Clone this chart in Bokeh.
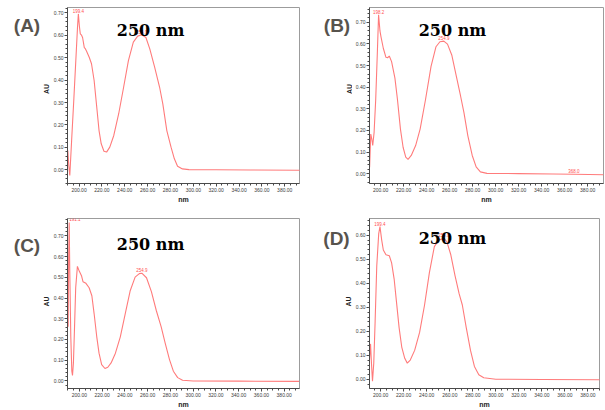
from math import pi
from bokeh.plotting import figure
from bokeh.layouts import column, row
from bokeh.models import Range1d, SingleIntervalTicker, NumeralTickFormatter, Label
from bokeh.embed import file_html
from bokeh.resources import INLINE
from bokeh.core.properties import value

# ---------------- data ----------------
wl_A = [190.2, 191.0, 191.9, 193.5, 195.5, 197.5, 198.7, 199.4, 200.3, 201.1, 202.2, 203.1,
        204.6, 205.5, 206.5, 208.9, 210.9, 213.2, 215.5, 217.5, 219.4, 221.8, 224.1, 226.9,
        230.4, 234.7, 239.0, 243.2, 247.5, 251.3, 254.9, 258.5, 261.9, 266.2, 270.5, 273.3,
        276.8, 280.5, 283.4, 286.2, 290.5, 296.2, 320.0, 350.0, 394.0]
au_A = [0.086, 0.020, -0.025, 0.130, 0.320, 0.520, 0.640, 0.695, 0.640, 0.606, 0.600, 0.590,
        0.545, 0.540, 0.530, 0.502, 0.473, 0.398, 0.279, 0.175, 0.116, 0.083, 0.079, 0.101,
        0.153, 0.250, 0.368, 0.487, 0.569, 0.596, 0.602, 0.590, 0.539, 0.457, 0.368, 0.294,
        0.175, 0.101, 0.049, 0.016, 0.004, 0.001, 0.000, -0.001, -0.002]

wl_B = [190.4, 191.4, 192.3, 193.1, 194.3, 195.7, 197.2, 198.2, 199.4, 200.3, 202.3, 204.6,
        206.0, 207.5, 209.5, 212.4, 214.6, 217.2, 219.5, 221.8, 223.8, 226.6, 230.4, 234.3,
        239.0, 243.8, 248.1, 251.5, 254.9, 258.1, 261.8, 265.8, 269.5, 272.4, 275.8, 279.6,
        283.0, 286.7, 292.4, 320.0, 350.0, 368.0, 394.0]
au_B = [0.030, 0.183, 0.160, 0.130, 0.191, 0.343, 0.572, 0.735, 0.660, 0.633, 0.580, 0.538,
        0.536, 0.544, 0.518, 0.442, 0.343, 0.206, 0.122, 0.076, 0.066, 0.084, 0.130, 0.206,
        0.343, 0.496, 0.587, 0.610, 0.613, 0.599, 0.549, 0.450, 0.358, 0.282, 0.175, 0.084,
        0.031, 0.008, 0.001, 0.000, -0.002, -0.003, -0.005]

wl_C = [190.2, 190.6, 191.1, 191.6, 192.5, 193.4, 194.0, 194.8, 195.7, 196.8, 198.3, 200.0,
        202.0, 203.2, 205.8, 208.6, 211.0, 213.0, 215.3, 217.3, 219.6, 222.5, 225.0, 227.9,
        231.7, 236.0, 240.3, 244.6, 249.0, 252.7, 254.9, 259.0, 263.3, 267.6, 271.9, 275.4,
        279.2, 282.6, 286.4, 290.7, 300.0, 340.0, 393.0]
au_C = [0.261, 0.600, 0.765, 0.529, 0.213, 0.047, 0.027, 0.087, 0.245, 0.450, 0.553, 0.529,
        0.506, 0.479, 0.471, 0.450, 0.411, 0.324, 0.213, 0.134, 0.079, 0.060, 0.066, 0.087,
        0.134, 0.213, 0.324, 0.434, 0.501, 0.518, 0.520, 0.498, 0.431, 0.340, 0.261, 0.182,
        0.103, 0.047, 0.016, 0.003, 0.000, -0.001, -0.002]

wl_D = [190.3, 191.2, 192.0, 192.9, 194.0, 195.2, 196.6, 198.3, 199.4, 200.9, 202.3, 204.6,
        207.5, 209.5, 211.7, 213.7, 216.0, 218.3, 220.9, 223.1, 225.7, 229.5, 233.8, 238.1,
        242.3, 246.6, 250.3, 252.0, 254.9, 257.5, 260.9, 264.6, 268.1, 270.9, 274.3, 278.0,
        281.4, 285.2, 289.5, 300.0, 340.0, 391.0]
au_D = [0.081, 0.148, 0.068, -0.007, 0.068, 0.243, 0.472, 0.607, 0.636, 0.580, 0.539, 0.519,
        0.515, 0.485, 0.418, 0.324, 0.216, 0.135, 0.088, 0.068, 0.081, 0.121, 0.196, 0.310,
        0.445, 0.553, 0.580, 0.583, 0.588, 0.573, 0.519, 0.431, 0.357, 0.310, 0.216, 0.121,
        0.054, 0.020, 0.007, 0.001, 0.000, -0.001]

peaks_A = [199.4, 254.9]
peak_au_A = [0.695, 0.602]
peaks_B = [198.2, 254.9, 368.0]
peak_au_B = [0.735, 0.613, 0.000]
peaks_C = [191.1, 254.9]
peak_au_C = [0.765, 0.520]
peaks_D = [199.4, 254.9]
peak_au_D = [0.636, 0.588]

panel_letters = ["(A)", "(B)", "(C)", "(D)"]
wavelength_label = "250 nm"
x_title = "nm"
y_title = "AU"

CURVE = "#ff7b7b"
LETTER = "#57534d"


def side(letter, w, h, letter_xy, au_xy):
    """Narrow strip left of each panel that holds the panel letter and the AU title."""
    s = figure(width=w, height=h, x_range=Range1d(0, w), y_range=Range1d(0, h),
               x_axis_location=None, y_axis_location=None, output_backend="svg",
               toolbar_location=None, min_border=0)
    s.grid.visible = False
    s.outline_line_color = None
    s.border_fill_color = "white"
    s.text(x=[letter_xy[0]], y=[letter_xy[1]], text=[letter], text_color=LETTER,
           text_font=value("Liberation Sans"), text_font_size=value("19px"),
           text_font_style="bold", text_align="center", text_baseline="middle")
    s.text(x=[au_xy[0]], y=[au_xy[1]], text=[y_title], text_color="#222222",
           text_font=value("Liberation Sans"), text_font_size=value("7px"),
           text_font_style="bold", text_align="center", text_baseline="middle",
           angle=pi / 2)
    return s


def panel(wl, au, px, pau, xr, yr, w, h, bl, bt, bb, br, title_pos):
    p = figure(width=w, height=h, x_range=Range1d(*xr), y_range=Range1d(*yr),
               output_backend="svg", toolbar_location=None,
               min_border_left=bl, min_border_top=bt, min_border_bottom=bb,
               min_border_right=br)
    p.grid.visible = False
    p.background_fill_color = "white"
    p.border_fill_color = "white"
    p.outline_line_color = "#9c9c9c"
    p.outline_line_width = 1

    p.line(wl, au, line_color=CURVE, line_width=1.1)

    for xv, yv in zip(px, pau):
        p.text(x=[xv], y=[yv], text=["%.1f" % xv], text_color="#ff5050",
               text_font=value("Liberation Sans"), text_font_size=value("4.5px"),
               text_align="left" if xv < 192 else "center",
               text_baseline="bottom", y_offset=-1)

    p.xaxis.ticker = SingleIntervalTicker(interval=20, num_minor_ticks=4)
    p.yaxis.ticker = SingleIntervalTicker(interval=0.1, num_minor_ticks=5)
    p.xaxis.formatter = NumeralTickFormatter(format="0.00")
    p.yaxis.formatter = NumeralTickFormatter(format="0.00")
    p.xaxis.axis_label = x_title
    for ax in (p.xaxis, p.yaxis):
        ax.axis_line_color = "#4a4a4a"
        ax.major_tick_line_color = "#4a4a4a"
        ax.minor_tick_line_color = "#4a4a4a"
        ax.major_tick_in = 0
        ax.major_tick_out = 3
        ax.minor_tick_in = 0
        ax.minor_tick_out = 2
        ax.major_label_text_font = "Liberation Sans"
        ax.major_label_text_font_size = "5px"
        ax.major_label_text_color = "#3a3a3a"
        ax.major_label_standoff = 1
        ax.axis_label_text_font = "Liberation Sans"
        ax.axis_label_text_font_size = "7px"
        ax.axis_label_text_font_style = "bold"
        ax.axis_label_text_color = "#222222"
        ax.axis_label_standoff = 1

    p.add_layout(Label(x=title_pos[0], y=title_pos[1], text=wavelength_label,
                       text_font="DejaVu Serif", text_font_size="16px",
                       text_font_style="bold", text_color="#000000",
                       text_align="center", text_baseline="alphabetic"))
    return p


H1, H2 = 205, 205

sA = side(panel_letters[0], 50, H1, (26.5, 183.5), (45.8, 110))
pA = panel(wl_A, au_A, peaks_A, peak_au_A, (189.9, 392.9), (-0.061, 0.7236),
           250, H1, 13, 7, 22, 1, (262.6, 0.623))
sB = side(panel_letters[1], 52, H1, (36.5, 184), (48.5, 110))
pB = panel(wl_B, au_B, peaks_B, peak_au_B, (190.3, 393.7), (-0.0457, 0.7685),
           253, H1, 14, 7, 20, 2, (262.4, 0.663))

sC = side(panel_letters[2], 50, H2, (26.5, 172.5), (45.7, 105))
pC = panel(wl_C, au_C, peaks_C, peak_au_C, (189.6, 393.4), (-0.0365, 0.784),
           250, H2, 13, 13, 0, 1, (262.6, 0.658))
sD = side(panel_letters[3], 52, H2, (36, 181), (48.3, 105))
pD = panel(wl_D, au_D, peaks_D, peak_au_D, (190.3, 390.0), (-0.0376, 0.670),
           249, H2, 14, 11, 0, 2, (262.3, 0.587))

layout = column(row(sA, pA, sB, pB), row(sC, pC, sD, pD))
open("out.html", "w").write(file_html(layout, INLINE))
